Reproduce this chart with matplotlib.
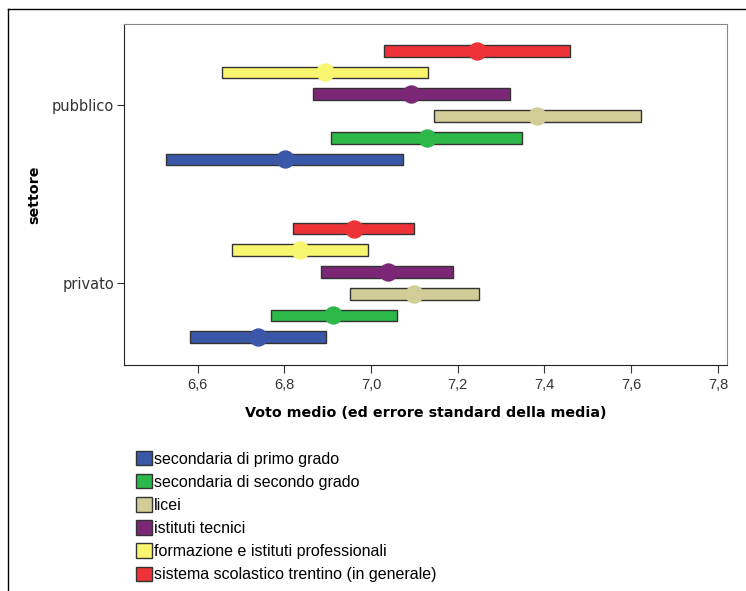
import matplotlib
matplotlib.use("Agg")
import matplotlib.pyplot as plt
import numpy as np
from matplotlib.patches import Patch
from matplotlib.lines import Line2D
from matplotlib.ticker import FuncFormatter

# categories, bottom to top within each group
categorie = ["secondaria di primo grado", "secondaria di secondo grado", "licei",
             "istituti tecnici", "formazione e istituti professionali",
             "sistema scolastico trentino (in generale)"]
colori = ["#3B57A7", "#2DB84A", "#D2CC96", "#7B2776", "#FAF56E", "#EE3338"]

settori = ["privato", "pubblico"]

# mean and lower/upper ends of the error range, per sector
media_pubblico = [6.802, 7.128, 7.383, 7.092, 6.894, 7.244]
basso_pubblico = [6.528, 6.908, 7.144, 6.865, 6.657, 7.030]
alto_pubblico = [7.074, 7.348, 7.623, 7.320, 7.131, 7.458]

media_privato = [6.739, 6.913, 7.100, 7.038, 6.836, 6.960]
basso_privato = [6.583, 6.769, 6.951, 6.884, 6.678, 6.820]
alto_privato = [6.897, 7.059, 7.248, 7.189, 6.994, 7.098]

plt.rcParams['font.family'] = ['Liberation Sans', 'DejaVu Sans']

fig = plt.figure(figsize=(7.46, 5.91), dpi=100)
ax = fig.add_axes([124/746, 1 - 365/591, (727 - 124)/746, (365 - 24)/591])

passo = 0.1223
offset = (np.arange(6) - 2.5) * passo

dati = {"privato": (media_privato, basso_privato, alto_privato),
        "pubblico": (media_pubblico, basso_pubblico, alto_pubblico)}

for i, s in enumerate(settori):
    media, lo, hi = dati[s]
    for k in range(6):
        y = i + offset[k]
        ax.barh(y, hi[k] - lo[k], left=lo[k], height=0.066, color=colori[k],
                edgecolor="#333333", linewidth=1.0, zorder=2)
        ax.scatter(media[k], y, s=175, color=colori[k], zorder=3, linewidths=0)

ax.set_xlim(6.43, 7.821)
ax.set_ylim(-0.462, 1.456)
ax.set_xticks([6.6, 6.8, 7.0, 7.2, 7.4, 7.6, 7.8])
ax.xaxis.set_major_formatter(FuncFormatter(lambda v, p: f"{v:.1f}".replace(".", ",")))
ax.set_yticks([0, 1])
ax.set_yticklabels(settori, family="DejaVu Sans")
ax.tick_params(axis="x", labelsize=10.5, colors="#333333", length=6)
ax.tick_params(axis="y", labelsize=10.5, colors="#333333", length=5, pad=2)
for sp in ax.spines.values():
    sp.set_color("#888888")
ax.spines["left"].set_color("#222222")
ax.spines["bottom"].set_color("#222222")

ax.set_xlabel("Voto medio (ed errore standard della media)", fontsize=10.3,
              fontweight="bold", family="DejaVu Sans", labelpad=10)
ax.set_ylabel("settore", fontsize=10.3, fontweight="bold", family="DejaVu Sans",
              labelpad=8)

handles = [Patch(facecolor=c, edgecolor="#333333", label=l) for c, l in zip(colori, categorie)]
fig.legend(handles=handles, loc="upper left", bbox_to_anchor=(128/746, 1 - 443/591),
           frameon=False, fontsize=11.5, handlelength=1.0, handleheight=1.0,
           handletextpad=0.12, labelspacing=0.47, borderpad=0)

# outer frame of the output viewer
fig.add_artist(Line2D([8/746, 1], [1 - 9/591, 1 - 9/591], color="black", lw=1))
fig.add_artist(Line2D([8/746, 8/746], [0, 1 - 9/591], color="black", lw=1))

fig.savefig("out.png", dpi=100)
